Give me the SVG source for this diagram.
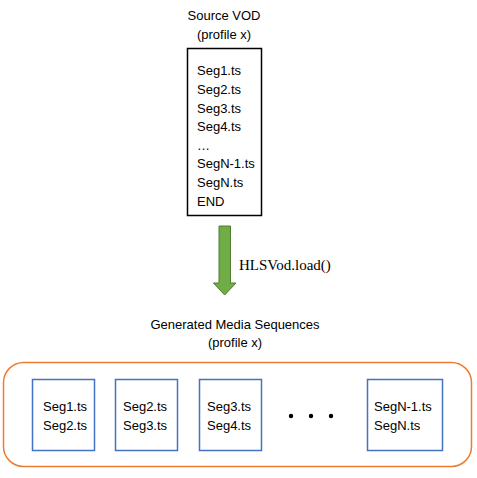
<svg xmlns="http://www.w3.org/2000/svg" width="477" height="478" viewBox="0 0 477 478">
<style>
text{font-family:"Liberation Sans",Arial,sans-serif;font-size:13px;fill:#000}
.c{text-anchor:middle}
.seg{fill:#fff;stroke:#4472C4;stroke-width:1.5}
.code{font-family:"Liberation Serif","Times New Roman",serif;font-size:15px}
</style>
<rect width="477" height="478" fill="#fff"/>
<g id="source">
<text class="c" x="224" y="20">Source VOD</text>
<text class="c" x="224" y="39">(profile x)</text>
<rect x="187.5" y="48.5" width="74" height="167" fill="#fff" stroke="#000" stroke-width="1.5"/>
<text x="197" y="75">Seg1.ts</text>
<text x="197" y="94">Seg2.ts</text>
<text x="197" y="113">Seg3.ts</text>
<text x="197" y="131">Seg4.ts</text>
<text x="197" y="150">…</text>
<text x="197" y="168">SegN-1.ts</text>
<text x="197" y="187">SegN.ts</text>
<text x="197" y="206">END</text>
</g>
<g id="connectors">
<path d="M219,226 H230.5 V283 H236 L224.7,295 L213.4,283 H219 Z" fill="#70AD47" stroke="#507E32" stroke-width="1"/>
<text class="code" x="239" y="270">HLSVod.load()</text>
</g>
<g id="generated">
<text class="c" x="235" y="329">Generated Media Sequences</text>
<text class="c" x="235" y="347">(profile x)</text>
<rect x="3.5" y="362.5" width="468" height="104" rx="20" fill="none" stroke="#ED7D31" stroke-width="1.5"/>
</g>
<g id="seq1">
<rect class="seg" x="32.5" y="379.5" width="62" height="71"/>
<text x="43" y="411">Seg1.ts</text>
<text x="43" y="430">Seg2.ts</text>
</g>
<g id="seq2">
<rect class="seg" x="115.5" y="379.5" width="62" height="71"/>
<text x="123" y="411">Seg2.ts</text>
<text x="123" y="430">Seg3.ts</text>
</g>
<g id="seq3">
<rect class="seg" x="199.5" y="379.5" width="62" height="71"/>
<text x="207" y="411">Seg3.ts</text>
<text x="207" y="430">Seg4.ts</text>
</g>
<g id="dots">
<circle cx="291" cy="416" r="2.2" fill="#000"/>
<circle cx="311" cy="416" r="2.2" fill="#000"/>
<circle cx="331" cy="416" r="2.2" fill="#000"/>
</g>
<g id="seqN">
<rect class="seg" x="367.5" y="379.5" width="75" height="71"/>
<text x="374" y="411">SegN-1.ts</text>
<text x="374" y="430">SegN.ts</text>
</g>
</svg>
